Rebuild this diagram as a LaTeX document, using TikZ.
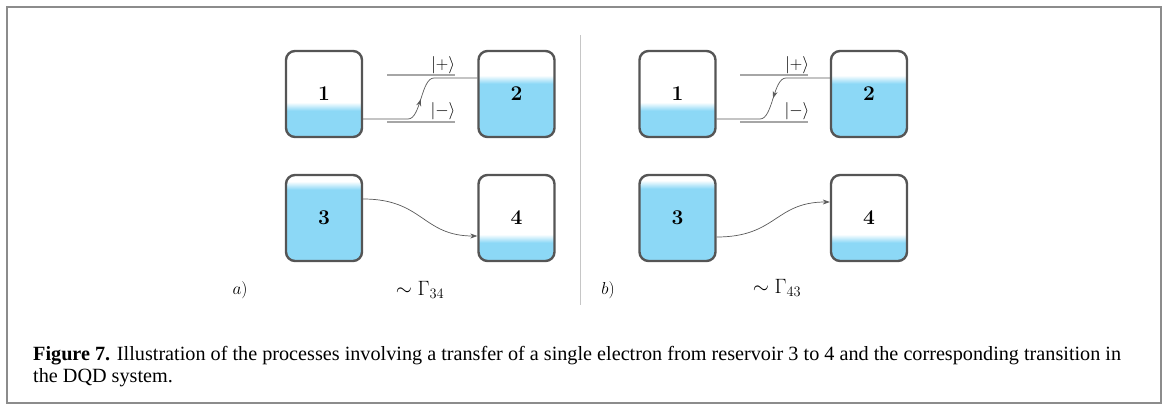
\documentclass[tikz,border=0pt]{standalone}
\usepackage{fontspec}
\newfontfamily\capfont{Liberation Serif}
\usetikzlibrary{calc,arrows.meta,decorations.markings}
\definecolor{wat}{RGB}{140,216,246}
\definecolor{boxc}{RGB}{85,85,85}
\definecolor{framec}{RGB}{140,140,140}
\tikzset{
  res/.style={draw=boxc, line width=2.4pt, rounded corners=9pt,
    minimum width=76pt, minimum height=86pt, inner sep=0pt, fill=white,
    font=\fontsize{21}{24}\selectfont\bfseries,
    path picture={
      \fill[wat, sharp corners] (path picture bounding box.south west) rectangle
        ($(path picture bounding box.south east)+(0pt,#1pt)$);
      \foreach \k in {0,...,7}{
        \pgfmathtruncatemacro\pc{92-12*\k}
        \fill[wat!\pc!white, sharp corners]
          ($(path picture bounding box.south west)+(0pt,#1pt+\k pt)$) rectangle
          ($(path picture bounding box.south east)+(0pt,#1pt+\k pt+1.1pt)$);
      }
    }},
  level/.style={draw=gray!70, line width=1.1pt},
  conn/.style={draw=black!65, line width=0.7pt},
  midarrow/.style={postaction={decorate}, decoration={markings,
    mark=at position #1 with {\arrow{Stealth[length=7pt,width=5pt]}}}},
  ket/.style={font=\fontsize{17}{19}\selectfont, inner sep=0pt},
  rate/.style={font=\fontsize{21}{24}\selectfont, inner sep=0pt},
  plabel/.style={font=\fontsize{19}{21}\selectfont, inner sep=0pt},
  captext/.style={font=\capfont\fontsize{20.2}{22}\selectfont, inner sep=0pt, anchor=base west}
}
\begin{document}
\begin{tikzpicture}[x=1pt,y=-1pt]
\useasboundingbox (0,0) rectangle (1168,410);
\draw[framec, line width=2.5pt] (7,7) rectangle (1161,403);
\draw[gray!45, line width=0.9pt] (580,35) -- (580,305);

% panel a
\node[res=26] (a1) at (324,94) {1};
\node[res=53] (a2) at (516.5,94) {2};
\node[res=71] (a3) at (324,218) {3};
\node[res=18] (a4) at (516.5,218) {4};
\draw[level] (387,75) -- (455,75);
\draw[level] (387,122) -- (455,122);
\node[ket] (ap) at (443,65) {$|+\rangle$};
\node[ket] (am) at (443,111) {$|-\rangle$};
\draw[conn, midarrow=0.5] ($(a1.east)+(0,25)$) -- (408,119) .. controls (421,119) and (421,78) .. (434,78) -- ($(a2.west)+(0,-16)$);
\draw[conn, -{Stealth[length=7pt,width=5pt]}] ($(a3.east)+(0,-19)$) .. controls +(60,0) and +(-55,0) .. ($(a4.west)+(0,18)$);
\node[rate] (ga) at (420,290) {$\sim\Gamma_{34}$};
\node[plabel] (la) at (240,290) {$a)$};

% panel b
\node[res=26] (b1) at (677.5,94) {1};
\node[res=53] (b2) at (869,94) {2};
\node[res=72] (b3) at (677.5,218) {3};
\node[res=18] (b4) at (869,218) {4};
\draw[level] (740,75) -- (808,75);
\draw[level] (740,122) -- (808,122);
\node[ket] (bp) at (797,65) {$|+\rangle$};
\node[ket] (bm) at (797,111) {$|-\rangle$};
\draw[conn, midarrow=0.5] ($(b2.west)+(0,-16)$) -- (786,78) .. controls (773,78) and (773,119) .. (760,119) -- ($(b1.east)+(0,25)$);
\draw[conn, -{Stealth[length=7pt,width=5pt]}] ($(b3.east)+(0,19)$) .. controls +(60,0) and +(-55,0) .. ($(b4.west)+(0,-16)$);
\node[rate] (gb) at (777,288) {$\sim\Gamma_{43}$};
\node[plabel] (lb) at (608,290) {$b)$};

% caption
\node[captext] (c1) at (33,360) {\textbf{Figure 7.} Illustration of the processes involving a transfer of a single electron from reservoir 3 to 4 and the corresponding transition in};
\node[captext] (c2) at (33,382) {the DQD system.};
\end{tikzpicture}
\end{document}
